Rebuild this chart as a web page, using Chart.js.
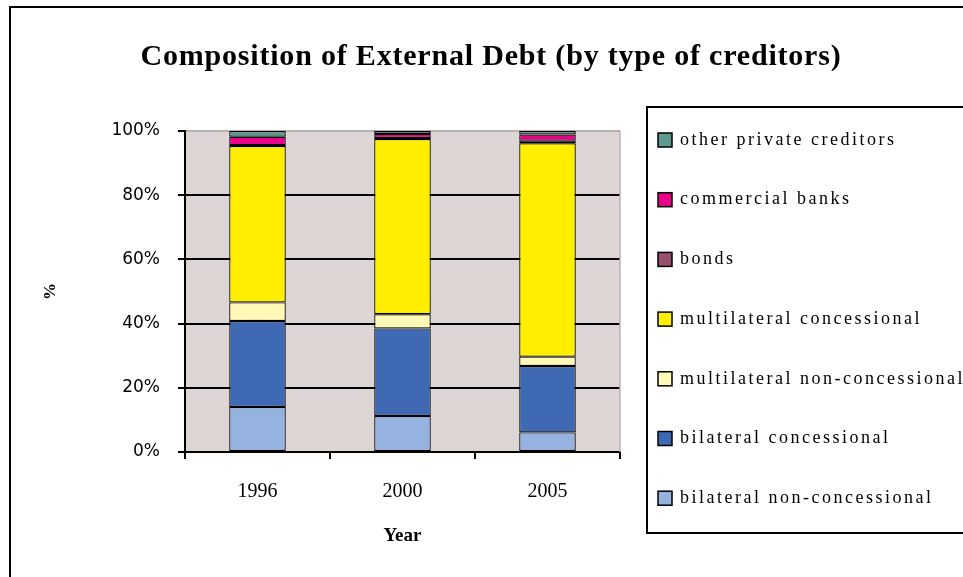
<!DOCTYPE html>
<html>
<head>
<meta charset="utf-8">
<script src="https://cdn.jsdelivr.net/npm/chart.js@4/dist/chart.umd.min.js"></script>
<style>
  html, body { margin: 0; padding: 0; background: #fff; }
  canvas { display: block; }
</style>
</head>
<body>
<canvas id="debtChart" width="963" height="577"></canvas>
<script>
// years on the x axis
var years = ['1996', '2000', '2005'];

// share of external debt by creditor type, in percent
var bilateralNonConc = [14.0, 11.2, 6.1];
var bilateralConc = [26.8, 27.3, 20.7];
var multilateralNonConc = [5.8, 4.4, 2.9];
var multilateralConc = [48.7, 54.6, 66.5];
var bonds = [0.3, 0.3, 0.8];
var commercialBanks = [2.6, 1.3, 1.9];
var otherPrivate = [1.8, 0.9, 1.1];

// y axis ticks
var yTicks = [0, 20, 40, 60, 80, 100];

var chartTitle = 'Composition of External Debt (by type of creditors)';

// plot background, frame, title and boxed legend
var decorations = {
  id: 'decorations',
  beforeDatasetsDraw: function(chart) {
    var ctx = chart.ctx;
    var a = chart.chartArea;
    ctx.save();
    ctx.fillStyle = '#DDD6D4';
    ctx.globalCompositeOperation = 'destination-over';
    ctx.fillRect(a.left, a.top, a.right - a.left, a.bottom - a.top);
    ctx.restore();
    // right edge of the plot
    ctx.save();
    ctx.strokeStyle = '#b8b3b1';
    ctx.lineWidth = 1.5;
    ctx.beginPath();
    ctx.moveTo(a.right, a.top);
    ctx.lineTo(a.right, a.bottom);
    ctx.stroke();
    ctx.restore();
  },
  afterDraw: function(chart) {
    var ctx = chart.ctx;
    ctx.save();

    // outer frame
    ctx.strokeStyle = '#000';
    ctx.lineWidth = 2;
    ctx.strokeRect(10, 7, 1200, 1200);

    // title
    ctx.fillStyle = '#000';
    ctx.font = 'bold 30px "Liberation Serif", serif';
    ctx.letterSpacing = '0.8px';
    ctx.textAlign = 'center';
    ctx.textBaseline = 'middle';
    ctx.fillText(chartTitle, 491, 57);

    // legend box
    ctx.lineWidth = 2;
    ctx.strokeRect(647, 107, 400, 426);

    var sets = chart.data.datasets.slice().reverse();
    ctx.font = '18px "Liberation Serif", serif';
    ctx.textAlign = 'left';
    ctx.letterSpacing = '2.5px';
    sets.forEach(function(ds, i) {
      var cy = 140 + i * 59.7;
      ctx.fillStyle = ds.backgroundColor;
      ctx.fillRect(658, cy - 7, 14, 14);
      ctx.lineWidth = 1.5;
      ctx.strokeStyle = '#000';
      ctx.strokeRect(658, cy - 7, 14, 14);
      ctx.fillStyle = '#000';
      ctx.fillText(ds.label, 680, cy);
    });
    ctx.restore();
  }
};

function series(label, data, color) {
  return {
    label: label,
    data: data,
    backgroundColor: color,
    borderColor: '#000',
    borderWidth: 1.2,
    borderSkipped: false,
    barPercentage: 0.39,
    categoryPercentage: 1
  };
}

var ctx = document.getElementById('debtChart').getContext('2d');
var myChart = new Chart(ctx, {
  type: 'bar',
  data: {
    labels: years,
    datasets: [
      series('bilateral non-concessional', bilateralNonConc, '#95B3DE'),
      series('bilateral concessional', bilateralConc, '#3F69B2'),
      series('multilateral non-concessional', multilateralNonConc, '#FFF8B6'),
      series('multilateral concessional', multilateralConc, '#FFEE00'),
      series('bonds', bonds, '#99506E'),
      series('commercial banks', commercialBanks, '#E8008A'),
      series('other private creditors', otherPrivate, '#5F9A8E')
    ]
  },
  options: {
    responsive: false,
    animation: false,
    layout: {
      padding: { top: 131, right: 343, left: 0, bottom: 0 }
    },
    plugins: {
      legend: { display: false },
      tooltip: { enabled: false }
    },
    scales: {
      x: {
        stacked: true,
        offset: true,
        grid: {
          offset: true,
          drawOnChartArea: false,
          color: '#000',
          lineWidth: 2,
          tickLength: 7
        },
        border: { color: '#000', width: 2 },
        ticks: {
          color: '#000',
          padding: 21,
          font: { family: '"Liberation Serif", serif', size: 20 }
        },
        title: {
          display: true,
          text: 'Year',
          color: '#000',
          padding: { top: 0, bottom: 30 },
          font: { family: '"Liberation Serif", serif', size: 19, weight: 'bold' }
        },
        afterFit: function(scale) {
          scale.height = 125;
        }
      },
      y: {
        stacked: true,
        min: 0,
        max: 100,
        afterBuildTicks: function(scale) {
          scale.ticks = yTicks.map(function(v) { return { value: v }; });
        },
        grid: {
          color: function(c) {
            return c.tick && c.tick.value === 100 ? '#b8b3b1' : '#000';
          },
          tickColor: '#000',
          lineWidth: 2,
          tickLength: 7
        },
        border: { color: '#000', width: 2 },
        ticks: {
          color: '#000',
          padding: 18,
          font: { family: '"DejaVu Sans", sans-serif', size: 17 },
          callback: function(v) { return v + '%'; }
        },
        title: {
          display: true,
          text: '%',
          color: '#000',
          padding: { top: 40, bottom: 0 },
          font: { family: '"Liberation Serif", serif', size: 17, weight: 'bold' }
        },
        afterFit: function(scale) {
          scale.width = 185;
        }
      }
    }
  },
  plugins: [decorations]
});
</script>
</body>
</html>
